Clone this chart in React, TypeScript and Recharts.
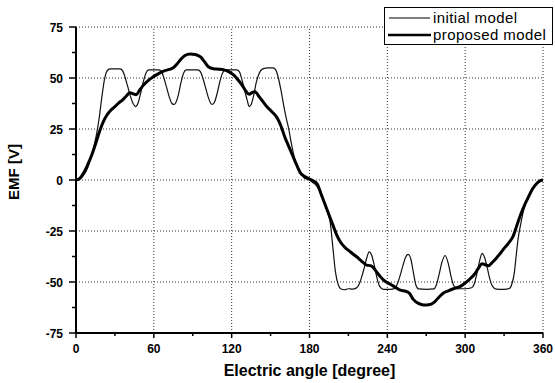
import React from 'react';
import { LineChart, Line, XAxis, YAxis, ReferenceLine } from 'recharts';

// initial model (thin line)
const initAngle = [
  0, 3, 6, 9, 12, 14, 16, 18, 20, 22, 24, 26, 30, 34, 36, 38, 40, 42, 44, 46, 48, 50, 52, 54, 56, 60,
  64, 66, 68, 70, 72, 74, 75.5, 77, 79, 81, 83, 85, 90, 94, 96, 98, 100, 102, 104, 105, 107, 109, 111,
  113, 115, 120, 124, 126, 128, 130, 132, 133.5, 135, 137, 139, 141, 144, 148, 152, 154, 156, 158, 160,
  162, 164, 166, 168, 170, 172, 174, 176, 180,
  182, 185, 188, 191, 194, 196, 198, 200, 202, 204, 207, 210, 213, 216, 218, 220, 222, 224, 226, 228,
  230, 232, 234, 237, 242, 246, 248, 250, 252, 254, 256, 258, 260, 262, 264, 270, 276, 278, 280, 282,
  284.5, 287, 289, 291, 294, 300, 305, 307, 309, 311, 313, 315, 317, 319, 321, 324, 330, 334, 336, 338,
  339.5, 341, 343, 345, 347, 350, 353, 356, 360,
];
const initEmf = [
  0, 0.5, 2.5, 6, 12, 17, 23, 31, 41, 49.5, 53.5, 54.5, 54.5, 54.5, 53.5, 50, 45.5, 41, 37.5, 36, 38, 43,
  48.5, 52.5, 54, 54,
  54, 53, 49.5, 45, 40.5, 37.5, 37, 38, 42, 48, 52.5, 54, 54, 54, 53, 49.5, 45, 40.5, 37.5, 37, 38.5, 43,
  48.5, 52.5, 54, 54, 54, 53, 49, 44, 39, 36, 37, 41.5, 48, 52, 54.5, 55, 55, 54, 50, 44, 37,
  30.5, 25, 18, 12, 7.5, 4.5, 2.5, 1, 0,
  -1, -2.5, -5.5, -10, -16, -21, -33, -45, -51, -53.3, -53.8, -53.3, -53.5, -53, -51.5, -48, -43.5, -38.5,
  -35.2, -37, -42, -48, -52, -53.6, -53.6, -53, -50.5, -46.5, -42, -38, -36.5, -38.5, -45, -51.5, -53.4,
  -53.6, -53.4, -51, -46, -40.5, -37, -41, -47, -51.5, -53.3, -53.3, -52.8, -51, -46, -40, -36, -38, -43,
  -48.5, -52, -53.5, -53.6, -53.2, -51, -45, -36, -28, -21, -15, -10.5, -6, -3, -1, 0,
];

// proposed model (thick line)
const propAngle = [
  0, 3, 6, 9, 12, 15, 18, 21, 24, 27, 30, 33, 36, 39, 41.5, 44, 46.5, 49, 52, 56, 60, 64, 68, 72, 75, 78,
  81, 84, 88, 92, 96, 99, 102, 106, 110, 114, 118, 121.5, 125, 128, 131, 133.5, 136, 138, 141, 144, 147,
  151, 155, 158, 161, 164, 167, 170, 173, 176, 180,
  183, 186, 189, 192, 195, 198, 201, 204, 207, 211, 214, 218, 221, 224, 227, 229, 232, 235, 238, 242, 246,
  250, 254, 257, 260, 264, 268, 272, 276, 279, 283, 287, 291, 296, 300, 304, 307, 310, 313, 316, 318, 321,
  324, 327, 331, 334, 337, 340, 343, 346, 349, 352, 355, 358, 360,
];
const propEmf = [
  0, 0.8, 3.5, 7.5, 12, 17.5, 23.5, 28.5, 32, 34.3, 36, 37.8, 39.3, 41.3, 42.8, 42.3, 41.8, 44, 46.5, 49,
  50.8, 52.3, 53.5, 54.2, 55, 57, 59.3, 61, 61.8, 61.5, 60.3, 58, 55.5, 54.5, 54.3, 54, 53, 51.5, 49, 46.5,
  43.5, 42, 43, 43.3, 41, 38.5, 36, 33.5, 30.5, 26.5, 21, 16.5, 12, 7.5, 3.5, 1.8, 0.5,
  -0.5, -2, -7, -12, -17, -22, -27, -30.5, -32.8, -35, -36.5, -38.5, -40.3, -41.7, -42, -42.8, -45.3, -47.7,
  -49.5, -51, -52.5, -54, -54.5, -55.5, -58.5, -60.5, -61.3, -61.2, -60, -58, -55.5, -54.3, -53.3, -52.3,
  -50.5, -48.3, -46.3, -43.5, -41, -41.7, -42, -40.3, -38.3, -36, -32.8, -30.5, -27.5, -22, -16.5, -12, -8,
  -4.3, -1.8, -0.3, 0,
];

const xTicks = [0, 30, 60, 90, 120, 150, 180, 210, 240, 270, 300, 330, 360];
const yTicks = [-75, -62.5, -50, -37.5, -25, -12.5, 0, 12.5, 25, 37.5, 50, 62.5, 75];
const xGrid = [60, 120, 180, 240, 300, 360];
const yGrid = [-50, -25, 0, 25, 50, 75];

const initialData = initAngle.map((a, i) => ({ angle: a, emf: initEmf[i] }));
const proposedData = propAngle.map((a, i) => ({ angle: a, emf: propEmf[i] }));

const FONT = '"Liberation Sans", Arial, sans-serif';

const XTick = (props: any) => {
  const { x, y, payload } = props;
  const major = payload.value % 60 === 0;
  return (
    <g>
      <line x1={x} x2={x} y1={y} y2={y + (major ? 5 : 3)} stroke="#000" strokeWidth={1.5} />
      {major && (
        <text x={x} y={y + 20} textAnchor="middle" fontSize={12} fontWeight="bold" fill="#000" fontFamily={FONT}>
          {payload.value}
        </text>
      )}
    </g>
  );
};

const YTick = (props: any) => {
  const { x, y, payload } = props;
  const major = payload.value % 25 === 0;
  return (
    <g>
      <line x1={x} x2={x - (major ? 7 : 4)} y1={y} y2={y} stroke="#000" strokeWidth={1.5} />
      {major && (
        <text x={x - 13} y={y + 4.5} textAnchor="end" fontSize={12} fontWeight="bold" fill="#000" fontFamily={FONT}>
          {payload.value}
        </text>
      )}
    </g>
  );
};

const LegendBox = () => (
  <div
    style={{
      position: 'absolute',
      left: 384,
      top: 7,
      width: 167,
      height: 36,
      border: '1.5px solid #000',
      background: '#fff',
      fontFamily: FONT,
      fontSize: 15,
      color: '#000',
    }}
  >
    <svg width={167} height={36} style={{ position: 'absolute', left: 0, top: 0 }}>
      <line x1={4} x2={45} y1={10} y2={10} stroke="#000" strokeWidth={1.2} />
      <line x1={3} x2={46} y1={27} y2={27} stroke="#000" strokeWidth={2.6} />
      <text x={48} y={15} fontSize={15} fontFamily={FONT} letterSpacing={0.4}>initial model</text>
      <text x={48} y={32} fontSize={15} fontFamily={FONT} letterSpacing={0.4}>proposed model</text>
    </svg>
  </div>
);

const App: React.FC = () => {
  return (
    <div style={{ position: 'absolute', left: 0, top: 0, width: 555, height: 383, background: '#fff' }}>
      <LineChart width={555} height={383} margin={{ top: 27, right: 12, bottom: 0, left: 0 }}>
        <XAxis
          type="number"
          dataKey="angle"
          domain={[0, 360]}
          ticks={xTicks}
          interval={0}
          tickSize={0}
          tickMargin={0}
          tick={<XTick />}
          height={50}
          axisLine={{ stroke: '#000', strokeWidth: 2 }}
          allowDuplicatedCategory={false}
          label={{
            value: 'Electric angle [degree]',
            position: 'insideBottom',
            offset: 7,
            style: { fontSize: 16, fontWeight: 'bold', fill: '#000', fontFamily: FONT },
          }}
        />
        <YAxis
          type="number"
          domain={[-75, 75]}
          ticks={yTicks}
          interval={0}
          tickSize={0}
          tickMargin={0}
          tick={<YTick />}
          width={76}
          axisLine={{ stroke: '#000', strokeWidth: 2 }}
          label={{
            value: 'EMF [V]',
            angle: -90,
            position: 'center',
            dx: -24,
            dy: -8,
            style: { fontSize: 15, fontWeight: 'bold', fill: '#000', fontFamily: FONT, textAnchor: 'middle' },
          }}
        />
        {xGrid.map((v) => (
          <ReferenceLine key={`gx-${v}`} x={v} stroke="#333" strokeDasharray="1 2" />
        ))}
        {yGrid.map((v) => (
          <ReferenceLine key={`gy-${v}`} y={v} stroke="#333" strokeDasharray="1 2" />
        ))}
        <Line
          data={initialData}
          dataKey="emf"
          name="initial model"
          type="monotone"
          stroke="#111"
          strokeWidth={1.2}
          dot={false}
          isAnimationActive={false}
        />
        <Line
          data={proposedData}
          dataKey="emf"
          name="proposed model"
          type="monotone"
          stroke="#000"
          strokeWidth={3}
          dot={false}
          isAnimationActive={false}
        />
      </LineChart>
      <LegendBox />
    </div>
  );
};

export default App;
